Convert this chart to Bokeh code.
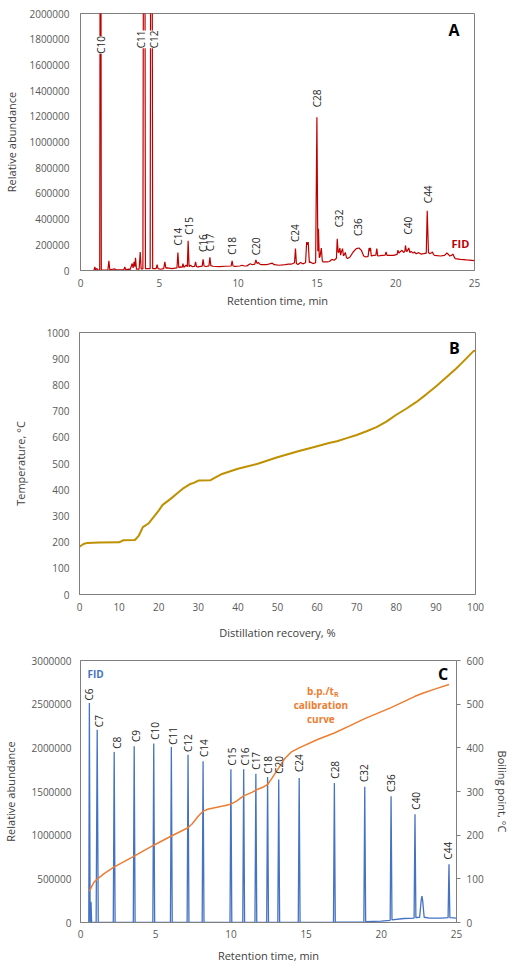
import numpy as np
from bokeh.plotting import figure
from bokeh.models import Range1d, LinearAxis, FixedTicker, BasicTickFormatter, ColumnDataSource, Label
from bokeh.embed import file_html
from bokeh.resources import INLINE
from bokeh.core.properties import value

# ---------------- Panel A : FID chromatogram of the sample ----------------
a_time = [0, 0.85, 0.91, 0.96, 1.04, 1.1, 1.22, 1.27, 1.32, 1.74, 1.8, 1.86, 2.18, 2.25, 2.75, 2.81, 2.87,
          3.06, 3.15, 3.28, 3.34, 3.4, 3.45, 3.49, 3.55, 3.72, 3.79, 3.85, 3.96, 4.04, 4.12, 4.42, 4.5, 4.58,
          4.8, 4.86, 4.92, 5.07, 5.28, 5.35, 5.42, 5.5, 5.8, 6.12, 6.18, 6.24, 6.35, 6.45, 6.5, 6.56, 6.7,
          6.78, 6.83, 6.89, 6.98, 7.1, 7.24, 7.3, 7.36, 7.45, 7.72, 7.78, 7.84, 7.97, 8.15, 8.21, 8.27, 8.4,
          8.8, 9.2, 9.56, 9.62, 9.68, 9.8, 10.1, 10.25, 10.4, 10.56, 10.77, 10.9, 11.06, 11.13, 11.2, 11.28,
          11.4, 11.5, 11.8, 12.17, 12.3, 12.6, 13.0, 13.2, 13.4, 13.58, 13.64, 13.7, 13.8, 13.96, 14.1, 14.28,
          14.35, 14.4, 14.45, 14.52, 14.55, 14.75, 14.92, 15.0, 15.06, 15.1, 15.15, 15.2, 15.28, 15.34, 15.38,
          15.63, 15.8, 15.95, 16.1, 16.24, 16.29, 16.35, 16.4, 16.46, 16.5, 16.55, 16.63, 16.68, 16.72, 16.8,
          16.88, 16.95, 17.1, 17.3, 17.5, 17.67, 17.82, 17.97, 18.1, 18.25, 18.31, 18.36, 18.4, 18.45, 18.6,
          18.74, 18.8, 18.86, 19.15, 19.33, 19.39, 19.45, 19.56, 19.87, 20.09, 20.14, 20.2, 20.27, 20.4, 20.5,
          20.58, 20.62, 20.68, 20.72, 20.83, 20.9, 20.98, 21.1, 21.19, 21.3, 21.46, 21.6, 21.78, 21.94, 22.0,
          22.08, 22.16, 22.28, 22.33, 22.4, 22.46, 22.84, 23.1, 23.25, 23.35, 23.42, 23.55, 23.63, 23.7, 23.78,
          24.1, 24.5, 25]
a_signal = [0, 0, 28000, 5000, 16000, 3000, 3000, 5200000, 4000, 5000, 75000, 6000, 12000, 5000, 6000, 28000, 7000,
            10000, 8000, 54000, 20000, 67000, 30000, 98000, 10000, 10000, 144000, 12000, 12000, 6500000, 15000, 15000, 6500000, 14000,
            14000, 46000, 14000, 10000, 15000, 67000, 18000, 20000, 15000, 20000, 139000, 22000, 28000, 25000, 54000, 25000, 41000,
            30000, 231000, 30000, 41000, 30000, 32000, 67000, 30000, 28000, 34000, 87000, 35000, 31000, 36000, 103000, 38000, 33000,
            30000, 33000, 35000, 75000, 35000, 32000, 35000, 41000, 35000, 36000, 52000, 45000, 50000, 82000, 55000, 62000,
            48000, 46000, 45000, 57000, 45000, 41000, 46000, 50000, 50000, 60000, 170000, 55000, 46000, 62000, 52000, 60000,
            221000, 200000, 221000, 60000, 67000, 54000, 60000, 1192000, 150000, 324000, 100000, 110000, 175000, 80000, 67000,
            67000, 70000, 87000, 80000, 95000, 247000, 140000, 144000, 175000, 120000, 144000, 170000, 115000, 118000, 141000,
            100000, 93000, 105000, 144000, 170000, 175000, 157000, 113000, 105000, 110000, 175000, 150000, 177000, 113000, 118000,
            120000, 170000, 113000, 118000, 120000, 144000, 118000, 118000, 118000, 125000, 159000, 135000, 144000, 157000, 140000,
            150000, 195000, 150000, 149000, 175000, 140000, 149000, 135000, 144000, 130000, 139000, 128000, 131000, 135000, 465000,
            140000, 131000, 138000, 144000, 125000, 118000, 113000, 118000, 136000, 125000, 113000, 118000, 128000, 108000, 93000,
            87000, 82000, 77000]
a_label_text = ["C10", "C11", "C12", "C14", "C15", "C16", "C17", "C18", "C20", "C24", "C28", "C32", "C36", "C40", "C44"]
a_label_time = [1.27, 3.86, 4.68, 6.16, 6.9, 7.76, 8.24, 9.62, 11.15, 13.64, 14.98, 16.4, 17.58, 20.8, 22.06]
a_label_base = [1687000, 1730000, 1730000, 195000, 278000, 144000, 149000, 123000, 118000, 221000, 1270000,
                337000, 268000, 280000, 524000]
a_x_ticks = [0, 5, 10, 15, 20, 25]
a_y_ticks = [0, 200000, 400000, 600000, 800000, 1000000, 1200000, 1400000, 1600000, 1800000, 2000000]

# ---------------- Panel B : simulated distillation curve ----------------
b_recovery = [0, 1, 2, 5, 10, 11, 14, 15, 16, 17.5, 20, 21, 23, 25, 26, 28, 29, 30, 33, 34, 36, 40, 45, 50,
              55, 60, 63, 65, 67.5, 70, 72.5, 75, 77.5, 80, 82.5, 85, 87.5, 90, 92.5, 95, 96.5, 98, 99.5, 100]
b_temperature = [182, 193, 197, 198, 199, 207, 208, 225, 257, 272, 320, 342, 365, 390, 403, 422, 427, 435, 436,
                 444, 460, 480, 499, 524, 546, 566, 578, 585, 597, 609, 623, 639, 660, 686, 709, 734, 763, 794,
                 827, 861, 883, 906, 929, 930]
b_x_ticks = [0, 10, 20, 30, 40, 50, 60, 70, 80, 90, 100]
b_y_ticks = [0, 100, 200, 300, 400, 500, 600, 700, 800, 900, 1000]

# ---------------- Panel C : calibration mixture ----------------
c_time = [0.5, 0.55, 0.59, 0.64, 0.67, 0.7, 0.74, 1.04, 1.11, 1.18, 2.18, 2.24, 2.3, 3.51, 3.57, 3.63,
          4.81, 4.87, 4.93, 5.98, 6.04, 6.1, 7.09, 7.15, 7.21, 8.09, 8.15, 8.21, 9.94, 10.0, 10.06,
          10.79, 10.85, 10.91, 11.6, 11.66, 11.72, 12.38, 12.44, 12.5, 13.12, 13.18, 13.24, 14.48, 14.54, 14.6,
          16.82, 16.88, 16.94, 18.84, 18.9, 18.96, 20.0, 20.59, 20.65, 20.71, 21.5, 22.18, 22.24, 22.3,
          22.55, 22.65, 22.7, 22.75, 22.85, 23.2, 24.0, 24.44, 24.5, 24.56, 25.0]
c_signal = [0, 0, 2512000, 20000, 0, 236000, 0, 0, 2207000, 0, 0, 1952000, 0, 0, 2017000, 0,
            0, 2051000, 0, 0, 2009000, 0, 0, 1921000, 0, 0, 1845000, 0, 0, 1754000, 0,
            0, 1754000, 0, 0, 1704000, 0, 0, 1666000, 0, 0, 1636000, 0, 0, 1655000, 0,
            0, 1598000, 5000, 8000, 1553000, 10000, 15000, 25000, 1446000, 30000, 46000, 50000, 1240000, 55000,
            60000, 250000, 301000, 250000, 60000, 50000, 50000, 55000, 667000, 55000, 50000]
c_label_text = ["C6", "C7", "C8", "C9", "C10", "C11", "C12", "C14", "C15", "C16", "C17", "C18", "C20",
                "C24", "C28", "C32", "C36", "C40", "C44"]
c_label_time = [0.59, 1.24, 2.4, 3.71, 4.96, 6.16, 7.18, 8.19, 10.08, 10.92, 11.7, 12.44, 13.18,
                14.56, 16.9, 18.88, 20.67, 22.3, 24.45]
c_label_base = [2542000, 2237000, 1990000, 2066000, 2093000, 2036000, 1951000, 1894000, 1799000, 1799000,
                1750000, 1704000, 1704000, 1723000, 1647000, 1608000, 1494000, 1292000, 720000]
c_cal_time = [0.59, 0.8, 0.92, 1.13, 1.57, 2.22, 3.57, 4.87, 6.04, 7.15, 7.43, 7.87, 8.15, 8.52, 9.39, 10.0,
              10.37, 10.85, 11.4, 11.7, 12.2, 12.44, 12.7, 13.18, 13.57, 14.0, 14.54, 15.76, 16.88, 17.93,
              18.9, 20.65, 22.24, 22.75, 23.6, 24.5]
c_cal_bp = [72, 86, 93, 100, 112, 127, 152, 177, 198, 217, 226, 245, 255, 260, 266, 271,
            278, 290, 298, 304, 311, 316, 329, 354, 375, 390, 400, 419, 434, 451,
            467, 492, 518, 525, 535, 545]
c_x_ticks = [0, 5, 10, 15, 20, 25]
c_y_ticks = [0, 500000, 1000000, 1500000, 2000000, 2500000, 3000000]
c_bp_ticks = [0, 100, 200, 300, 400, 500, 600]

FONT = "Open Sans"
AX = "#7F7F7F"


def style(p):
    p.xgrid.visible = False
    p.ygrid.visible = False
    p.outline_line_color = AX
    p.outline_line_width = 1
    p.background_fill_color = "white"
    p.border_fill_color = "white"
    for ax in p.axis:
        ax.major_label_text_font = FONT
        ax.major_label_text_font_size = "10px"
        ax.major_label_text_color = "#595959"
        ax.axis_label_text_font = FONT
        ax.axis_label_text_font_size = "11px"
        ax.axis_label_text_font_style = "normal"
        ax.axis_label_text_color = "#404040"
        ax.minor_tick_line_color = None
        ax.major_tick_out = 0
        ax.major_tick_in = 0
        ax.axis_line_color = AX
        ax.formatter = BasicTickFormatter(use_scientific=False)


def rotated_labels(p, xs, ys, texts, **kw):
    src = ColumnDataSource(dict(x=xs, y=ys, text=texts))
    p.text(x="x", y="y", text="text", source=src, angle=np.pi / 2, text_align="left",
           text_baseline="middle", text_font=value(FONT), text_font_size="10px",
           text_color="#262626", **kw)


def peak_labels(p, xs, ys, texts, line_t, line_v, y_top):
    # labels of peaks that run off the top of the plot get a white box that cuts the line
    clipped = []
    for x in xs:
        near = [v for t, v in zip(line_t, line_v) if abs(t - x) <= 0.25]
        clipped.append(bool(near) and max(near) > y_top)
    on = [i for i, c in enumerate(clipped) if c]
    off = [i for i, c in enumerate(clipped) if not c]
    rotated_labels(p, [xs[i] for i in on], [ys[i] for i in on], [texts[i] for i in on],
                   background_fill_color="white")
    rotated_labels(p, [xs[i] for i in off], [ys[i] for i in off], [texts[i] for i in off])


# ---------- Figure A ----------
A_TOP = 2000000
pA = figure(width=512, height=310, output_backend="svg", toolbar_location=None,
            x_range=Range1d(0, 25), y_range=Range1d(0, A_TOP),
            min_border_left=80, min_border_right=38, min_border_top=13, min_border_bottom=38,
            x_axis_label="Retention time, min", y_axis_label="Relative abundance")
pA.line(a_time, a_signal, color="#C00000", line_width=1.2)
peak_labels(pA, a_label_time, a_label_base, a_label_text, a_time, a_signal, A_TOP)
style(pA)
pA.xaxis.ticker = FixedTicker(ticks=a_x_ticks)
pA.yaxis.ticker = FixedTicker(ticks=a_y_ticks)
pA.xaxis.major_label_standoff = 8
pA.xaxis.axis_label_standoff = 3
pA.yaxis.major_label_standoff = 11
pA.yaxis.axis_label_standoff = 7
pA.add_layout(Label(x=23.35, y=1872000, text="A", text_font=FONT, text_font_size="16px",
                    text_font_style="bold", text_baseline="middle", text_color="black"))
pA.add_layout(Label(x=23.54, y=214000, text="FID", text_font=FONT, text_font_size="11px",
                    text_font_style="bold", text_baseline="middle", text_color="#C00000"))

# ---------- Figure B ----------
pB = figure(width=512, height=335, output_backend="svg", toolbar_location=None,
            x_range=Range1d(0, 100), y_range=Range1d(0, 1000),
            min_border_left=79, min_border_right=37, min_border_top=22, min_border_bottom=51,
            x_axis_label="Distillation recovery, %", y_axis_label="Temperature, °C")
pB.line(b_recovery, b_temperature, color="#BF9000", line_width=2)
style(pB)
pB.xaxis.ticker = FixedTicker(ticks=b_x_ticks)
pB.yaxis.ticker = FixedTicker(ticks=b_y_ticks)
pB.xaxis.major_label_standoff = 8
pB.xaxis.axis_label_standoff = 11
pB.yaxis.major_label_standoff = 10
pB.yaxis.axis_label_standoff = 16
pB.add_layout(Label(x=93.3, y=942, text="B", text_font=FONT, text_font_size="16px",
                    text_font_style="bold", text_baseline="middle", text_color="black"))

# ---------- Figure C ----------
pC = figure(width=512, height=321, output_backend="svg", toolbar_location=None,
            x_range=Range1d(0, 25), y_range=Range1d(0, 3000000),
            min_border_left=76, min_border_right=54, min_border_top=15, min_border_bottom=44,
            x_axis_label="Retention time, min", y_axis_label="Relative abundance")
pC.extra_y_ranges = {"bp": Range1d(0, 600)}
right_axis = LinearAxis(y_range_name="bp", axis_label="Boiling point, °C")
pC.add_layout(right_axis, "right")
pC.line(c_time, c_signal, color="#4472C4", line_width=1.3)
pC.line(c_cal_time, c_cal_bp, color="#ED7D31", line_width=1.5, y_range_name="bp")
rotated_labels(pC, c_label_time, c_label_base, c_label_text)
style(pC)
pC.xaxis.ticker = FixedTicker(ticks=c_x_ticks)
pC.yaxis[0].ticker = FixedTicker(ticks=c_y_ticks)
right_axis.ticker = FixedTicker(ticks=c_bp_ticks)
right_axis.major_tick_out = 4
right_axis.major_tick_line_color = AX
right_axis.major_label_standoff = 6
right_axis.axis_label_standoff = 8
pC.xaxis.major_label_standoff = 7
pC.xaxis.axis_label_standoff = 7
pC.yaxis[0].major_label_standoff = 9
pC.yaxis[0].axis_label_standoff = 10
pC.add_layout(Label(x=23.77, y=570, y_range_name="bp", text="C", text_font=FONT, text_font_size="16px",
                    text_font_style="bold", text_baseline="middle", text_color="black"))
pC.add_layout(Label(x=0.46, y=2851000, text="FID", text_font=FONT, text_font_size="10px",
                    text_font_style="bold", text_baseline="middle", text_color="#4472C4"))
ORANGE = "#ED7D31"
pC.add_layout(Label(x=16.85, y=531, y_range_name="bp", text="b.p./t", text_font=FONT, text_font_size="10px",
                    text_font_style="bold", text_baseline="middle", text_align="right", text_color=ORANGE))
pC.add_layout(Label(x=16.85, y=531, y_range_name="bp", y_offset=-4, text="R", text_font=FONT,
                    text_font_size="7px", text_font_style="bold", text_baseline="middle",
                    text_align="left", text_color=ORANGE))
pC.add_layout(Label(x=15.98, y=498, y_range_name="bp", text="calibration", text_font=FONT,
                    text_font_size="10px", text_font_style="bold", text_baseline="middle",
                    text_align="center", text_color=ORANGE))
pC.add_layout(Label(x=15.98, y=465, y_range_name="bp", text="curve", text_font=FONT,
                    text_font_size="10px", text_font_style="bold", text_baseline="middle",
                    text_align="center", text_color=ORANGE))

open("out.html", "w").write(file_html([pA, pB, pC], INLINE))
